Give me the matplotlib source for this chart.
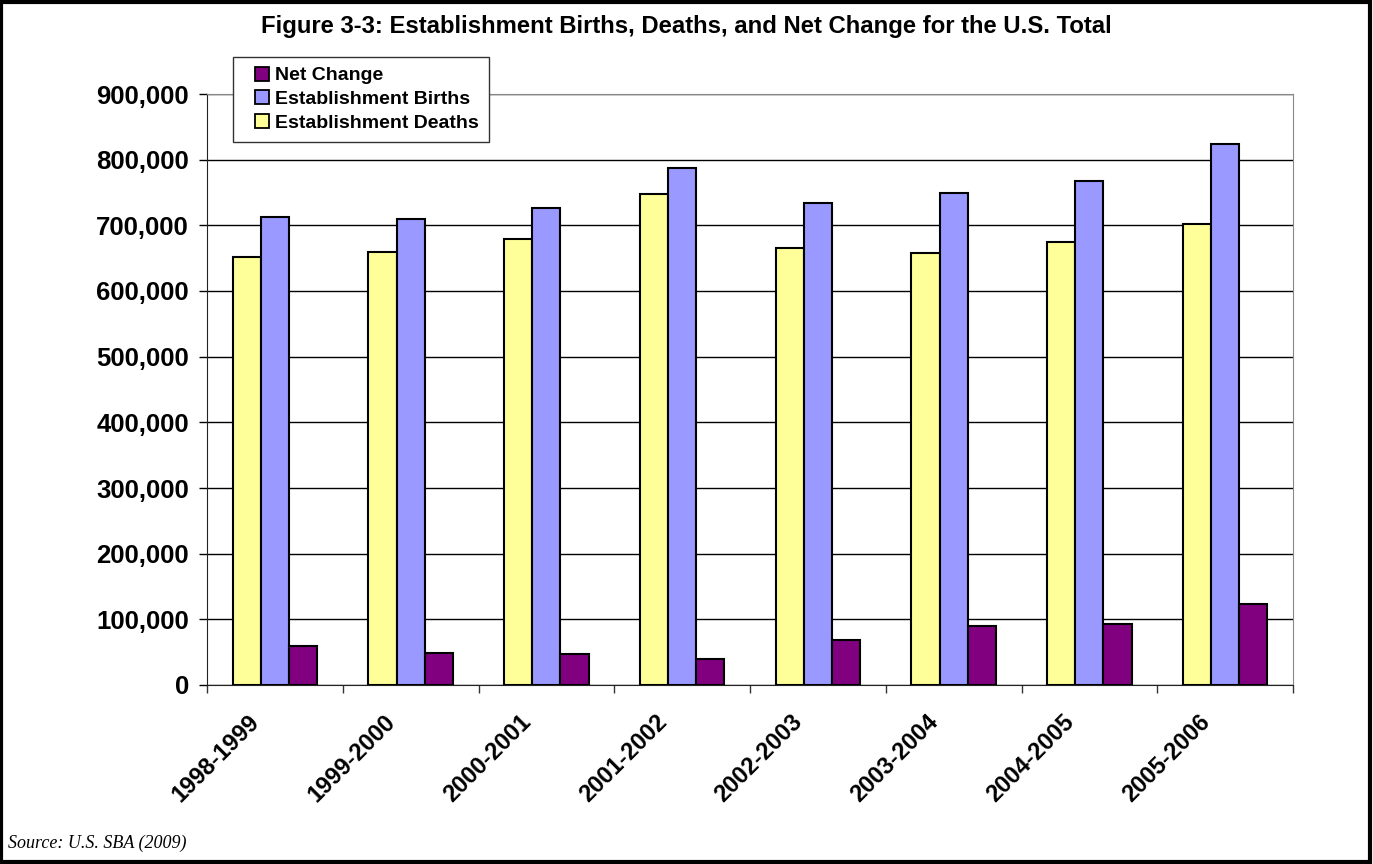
import numpy as np
import matplotlib
matplotlib.use("Agg")
import matplotlib.pyplot as plt
import matplotlib.transforms as mtransforms
from matplotlib.lines import Line2D
from matplotlib.patches import Rectangle
from matplotlib.ticker import FuncFormatter

periods = ["1998-1999", "1999-2000", "2000-2001", "2001-2002",
           "2002-2003", "2003-2004", "2004-2005", "2005-2006"]
deaths = [652000, 660000, 679000, 747000, 666000, 658000, 675000, 702500]
births = [712700, 709000, 727000, 787000, 734500, 749000, 768000, 824000]
net_change = [60000, 48000, 47700, 40000, 68000, 90000, 93000, 123000]

plt.rcParams['font.family'] = ['Liberation Sans', 'DejaVu Sans']

W, H = 1373, 864
fig = plt.figure(figsize=(W / 100, H / 100), dpi=100)
ax = fig.add_axes([207 / W, 1 - 685 / H, (1293 - 207) / W, (685 - 94) / H])

x = np.arange(len(periods))
w = 0.207
series = [
    (x - w, deaths, '#FFFF99', 'Establishment Deaths'),
    (x, births, '#9999FF', 'Establishment Births'),
    (x + w, net_change, '#800080', 'Net Change'),
]
for pos, vals, col, name in series:
    ax.bar(pos, vals, w, color=col, edgecolor='black', linewidth=1.5, zorder=3)

ax.set_xlim(-0.5, len(periods) - 0.5)
ax.set_ylim(0, 900000)
ax.set_yticks(np.arange(0, 900001, 100000))
ax.yaxis.set_major_formatter(FuncFormatter(lambda v, p: f"{int(v):,}"))
ax.yaxis.grid(True, color='black', linewidth=1.0, zorder=0)
ax.set_axisbelow(True)

# category ticks sit between the groups
ax.set_xticks(np.arange(-0.5, len(periods), 1.0))
ax.set_xticklabels([])
ax.set_xticks(x, minor=True)
ax.set_xticklabels(periods, minor=True, rotation=45, ha='right', va='center',
                   rotation_mode='anchor', fontsize=17, fontweight='bold')
ax.tick_params(axis='x', which='minor', length=0, pad=24)
ax.tick_params(axis='x', which='major', length=6, width=1, color='#333333')
ax.tick_params(axis='y', length=6, width=1, labelsize=18.5, pad=7)
for lab in ax.get_yticklabels():
    lab.set_fontweight('bold')
shift = mtransforms.ScaledTranslation(-19 / 100, 0, fig.dpi_scale_trans)
for lab in ax.get_xticklabels(minor=True):
    lab.set_transform(lab.get_transform() + shift)

ax.spines['left'].set_color('#222222')
ax.spines['bottom'].set_color('#222222')
ax.spines['top'].set_color('#888888')
ax.spines['right'].set_color('#888888')

handles = [Line2D([], [], linestyle='none', marker='s', markersize=10.5,
                  markerfacecolor=col, markeredgecolor='black', markeredgewidth=1.3)
           for _, _, col, _ in series][::-1]
names = [name for _, _, _, name in series][::-1]
leg = fig.legend(handles, names, loc='upper left',
                 bbox_to_anchor=(233 / W, 1 - 57 / H), frameon=True,
                 fancybox=False, edgecolor='#333333', framealpha=1,
                 prop={'weight': 'bold', 'size': 14},
                 handlelength=2.0, handletextpad=-0.33,
                 labelspacing=0.32, borderpad=0.5, borderaxespad=0)
leg.get_frame().set_linewidth(1.0)

fig.text(0.5, 1 - 26 / H,
         "Figure 3-3: Establishment Births, Deaths, and Net Change for the U.S. Total",
         ha='center', va='center', fontsize=17.2, fontweight='bold')
fig.text(8 / W, 1 - 843 / H, "Source: U.S. SBA (2009)", ha='left', va='center',
         fontsize=13, style='italic', family=['Liberation Serif', 'DejaVu Serif'])

# outer frame round the whole figure
fig.patches.append(Rectangle((0.001, 0.002), 0.997, 0.996, transform=fig.transFigure,
                             fill=False, edgecolor='black', linewidth=3))

fig.savefig("out.png", dpi=100)
